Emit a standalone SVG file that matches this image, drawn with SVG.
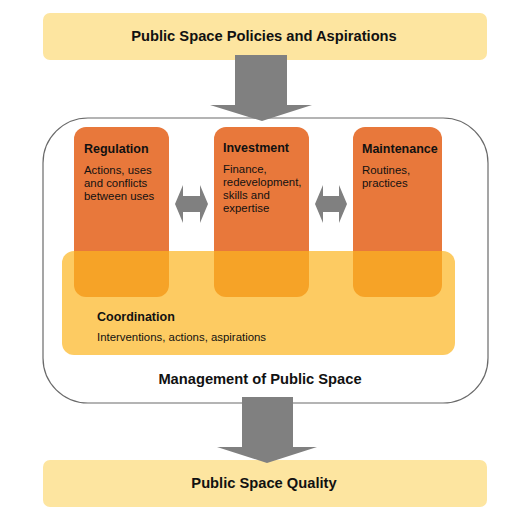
<svg xmlns="http://www.w3.org/2000/svg" width="523" height="520" viewBox="0 0 523 520">
<style>
text{font-family:"Liberation Sans",Arial,sans-serif;fill:#111}
.ttl{font-size:14.7px;font-weight:bold;text-anchor:middle}
.h{font-size:12.5px;font-weight:bold}
.b{font-size:11.4px}
.band{fill:#FDE5A0}
.pillar{fill:#E8783B}
.arr{fill:#808080}
</style>
<rect width="523" height="520" fill="#fff"/>
<g id="policies">
<rect class="band" x="43" y="13" width="444" height="47" rx="7"/>
<text class="ttl" x="264" y="41">Public Space Policies and Aspirations</text>
</g>
<g id="management">
<rect x="43" y="118" width="445" height="285" rx="45" ry="45" fill="#fff" stroke="#6a6a6a" stroke-width="1.2"/>
<text class="ttl" x="260" y="384">Management of Public Space</text>
</g>
<g id="regulation">
<rect class="pillar" x="74" y="127" width="95" height="170" rx="12"/>
<text class="h" x="84" y="153">Regulation</text>
<text class="b" x="84" y="174">Actions, uses</text>
<text class="b" x="84" y="187">and conflicts</text>
<text class="b" x="84" y="200">between uses</text>
</g>
<g id="investment">
<rect class="pillar" x="214" y="127" width="95" height="170" rx="12"/>
<text class="h" x="223" y="152">Investment</text>
<text class="b" x="223" y="173">Finance,</text>
<text class="b" x="223" y="186">redevelopment,</text>
<text class="b" x="223" y="199">skills and</text>
<text class="b" x="223" y="212">expertise</text>
</g>
<g id="maintenance">
<rect class="pillar" x="353" y="127" width="89" height="170" rx="12"/>
<text class="h" x="362" y="153">Maintenance</text>
<text class="b" x="362" y="174">Routines,</text>
<text class="b" x="362" y="187">practices</text>
</g>
<g id="coordination">
<rect x="62" y="251" width="393" height="104" rx="12" fill="#FCB520" fill-opacity="0.7"/>
<text class="h" x="97" y="321">Coordination</text>
<text class="b" x="97" y="341">Interventions, actions, aspirations</text>
</g>
<g id="quality">
<rect class="band" x="43" y="460" width="444" height="47" rx="7"/>
<text class="ttl" x="264" y="488">Public Space Quality</text>
</g>
<g id="connectors">
<polygon class="arr" points="235,55 287,55 287,105 312,105 262,121 210,105 235,105"/>
<polygon class="arr" points="242,397 293,397 293,447 317,447 267,463 217,447 242,447"/>
<polygon class="arr" points="175,204 183,185 183,196 200,196 200,185 208,204 200,223 200,212 183,212 183,223"/>
<polygon class="arr" points="315,204 323,185 323,196 339,196 339,185 347,204 339,223 339,212 323,212 323,223"/>
</g>
</svg>
